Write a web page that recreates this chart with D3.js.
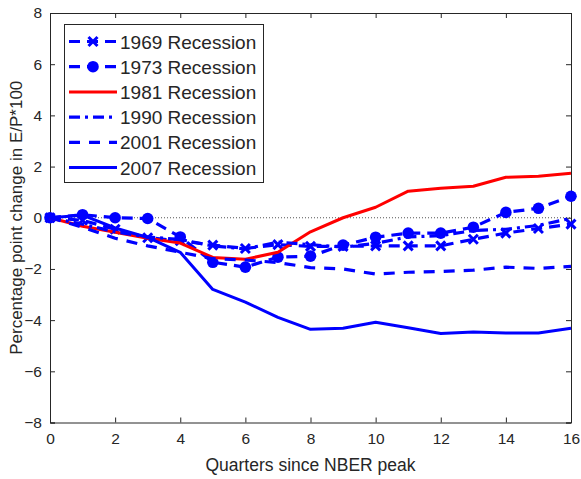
<!DOCTYPE html>
<html>
<head>
<meta charset="utf-8">
<script src="https://cdn.jsdelivr.net/npm/d3@7/dist/d3.min.js"></script>
<style>
  html, body { margin: 0; padding: 0; background: #fff; }
  svg { display: block; font-family: "Liberation Sans", Arial, Helvetica, sans-serif; }
</style>
</head>
<body>
<div id="chart"></div>
<script>
// Quarters since the NBER business-cycle peak
const quarters = d3.range(0, 17);

// Percentage point change in E/P*100, one array per recession
const rec1969 = [0, -0.1, -0.45, -0.78, -0.9, -1.07, -1.2, -1.05, -1.12, -1.12, -1.1, -1.1, -1.1, -0.84, -0.6, -0.42, -0.25];
const rec1973 = [0, 0.12, 0.0, -0.03, -0.75, -1.74, -1.93, -1.54, -1.5, -1.07, -0.76, -0.6, -0.6, -0.37, 0.21, 0.37, 0.84];
const rec1981 = [0, -0.33, -0.57, -0.8, -0.99, -1.55, -1.62, -1.35, -0.55, 0.0, 0.41, 1.04, 1.15, 1.23, 1.58, 1.62, 1.74];
const rec1990 = [0, -0.25, -0.55, -0.75, -0.85, -1.1, -1.22, -0.95, -1.05, -1.15, -1.0, -0.75, -0.7, -0.5, -0.45, -0.3, -0.02];
const rec2001 = [0, -0.37, -0.8, -1.1, -1.35, -1.6, -1.65, -1.75, -1.95, -2.0, -2.2, -2.13, -2.1, -2.05, -1.93, -1.98, -1.9];
const rec2007 = [0, 0.1, -0.4, -0.77, -1.35, -2.8, -3.3, -3.89, -4.36, -4.32, -4.08, -4.3, -4.52, -4.46, -4.5, -4.5, -4.32];

const seriesNames = ["1969 Recession", "1973 Recession", "1981 Recession", "1990 Recession", "2001 Recession", "2007 Recession"];

const xTicks = [0, 2, 4, 6, 8, 10, 12, 14, 16];
const yTicks = [-8, -6, -4, -2, 0, 2, 4, 6, 8];

const xLabel = "Quarters since NBER peak";
const yLabel = "Percentage point change in E/P*100";

// Line styling per series
const styles = [
  { color: "#0000ff", dash: "11,7", width: 3.2, marker: "x" },
  { color: "#0000ff", dash: "11,7", width: 3.2, marker: "o" },
  { color: "#ff0000", dash: null, width: 3, marker: null },
  { color: "#0000ff", dash: "11,5,3,5", width: 3.2, marker: null },
  { color: "#0000ff", dash: "11,9", width: 3.2, marker: null },
  { color: "#0000ff", dash: null, width: 3, marker: null }
];

const seriesValues = [rec1969, rec1973, rec1981, rec1990, rec2001, rec2007];
const series = seriesNames.map((name, i) => ({
  name,
  style: styles[i],
  points: quarters.map((q, j) => ({ q, v: seriesValues[i][j] }))
}));

const W = 581, H = 479;
const plot = { left: 50, right: 571, top: 13, bottom: 422.5 };
const axisColor = "#262626";

const svg = d3.select("#chart").append("svg")
  .attr("width", W).attr("height", H);

const x = d3.scaleLinear().domain([0, 16]).range([plot.left, plot.right]);
const y = d3.scaleLinear().domain([-8, 8]).range([plot.bottom, plot.top]);

// Zero reference line
svg.append("line")
  .attr("x1", x(0)).attr("x2", x(16))
  .attr("y1", y(0)).attr("y2", y(0))
  .attr("stroke", "#555").attr("stroke-width", 1)
  .attr("stroke-dasharray", "1,2");

const tickLen = 5;

// Bottom axis (ticks inside)
const gx = svg.append("g").attr("transform", `translate(0,${plot.bottom})`)
  .call(d3.axisBottom(x).tickValues(xTicks).tickSize(-tickLen).tickPadding(10).tickFormat(d3.format("d")));
// Top axis (ticks only)
const gxt = svg.append("g").attr("transform", `translate(0,${plot.top})`)
  .call(d3.axisTop(x).tickValues(xTicks).tickSize(-tickLen).tickFormat(""));
// Left axis
const gy = svg.append("g").attr("transform", `translate(${plot.left},0)`)
  .call(d3.axisLeft(y).tickValues(yTicks).tickSize(-tickLen).tickPadding(8).tickFormat(d3.format("d")));
// Right axis (ticks only)
const gyr = svg.append("g").attr("transform", `translate(${plot.right},0)`)
  .call(d3.axisRight(y).tickValues(yTicks).tickSize(-tickLen).tickFormat(""));

[gx, gxt, gy, gyr].forEach(g => {
  g.select(".domain").attr("stroke", axisColor).attr("stroke-width", 1);
  g.selectAll(".tick line").attr("stroke", axisColor);
  g.selectAll(".tick text").attr("fill", axisColor)
    .style("font-size", "15.5px").style("font-family", "Liberation Sans, Arial, sans-serif");
});

// Axis titles
svg.append("text")
  .attr("x", x(8)).attr("y", 471)
  .attr("text-anchor", "middle")
  .attr("fill", axisColor)
  .style("font-size", "17.5px")
  .text(xLabel);

svg.append("text")
  .attr("transform", `translate(22,${(plot.top + plot.bottom) / 2}) rotate(-90)`)
  .attr("text-anchor", "middle")
  .attr("fill", axisColor)
  .style("font-size", "17px")
  .text(yLabel);

// Series lines
const line = d3.line().x(d => x(d.q)).y(d => y(d.v));

const gLines = svg.append("g");
series.forEach(s => {
  const g = gLines.append("g");
  g.append("path")
    .datum(s.points)
    .attr("fill", "none")
    .attr("stroke", s.style.color)
    .attr("stroke-width", s.style.width)
    .attr("stroke-dasharray", s.style.dash)
    .attr("stroke-linejoin", "round")
    .attr("d", line);
  drawMarkers(g, s.points, s.style);
});

function drawMarkers(g, pts, st) {
  if (st.marker === "o") {
    g.selectAll("circle").data(pts).join("circle")
      .attr("cx", d => x(d.q)).attr("cy", d => y(d.v))
      .attr("r", 5.8).attr("fill", st.color);
  } else if (st.marker === "x") {
    const r = 4.5;
    g.selectAll("path.mk").data(pts).join("path")
      .attr("class", "mk")
      .attr("d", d => {
        const cx = x(d.q), cy = y(d.v);
        return `M${cx - r},${cy - r}L${cx + r},${cy + r}M${cx - r},${cy + r}L${cx + r},${cy - r}`;
      })
      .attr("stroke", st.color).attr("stroke-width", 3).attr("fill", "none");
  }
}

// Legend
const legend = svg.append("g");
const lg = { x: 64, y: 24, w: 199, h: 158 };
legend.append("rect")
  .attr("x", lg.x + 0.5).attr("y", lg.y + 0.5)
  .attr("width", lg.w).attr("height", lg.h)
  .attr("fill", "#fff").attr("stroke", axisColor).attr("stroke-width", 1);

series.forEach((s, i) => {
  const cy = 41.5 + i * 25.2;
  const x0 = 69, x1 = 117;
  const item = legend.append("g");
  item.append("line")
    .attr("x1", x0).attr("x2", x1).attr("y1", cy).attr("y2", cy)
    .attr("stroke", s.style.color)
    .attr("stroke-width", s.style.width)
    .attr("stroke-dasharray", s.style.dash);
  if (s.style.marker === "o") {
    item.append("circle").attr("cx", (x0 + x1) / 2).attr("cy", cy).attr("r", 5.8).attr("fill", s.style.color);
  } else if (s.style.marker === "x") {
    const r = 4.5, mx = (x0 + x1) / 2;
    item.append("path")
      .attr("d", `M${mx - r},${cy - r}L${mx + r},${cy + r}M${mx - r},${cy + r}L${mx + r},${cy - r}`)
      .attr("stroke", s.style.color).attr("stroke-width", 3);
  }
  item.append("text")
    .attr("x", 120).attr("y", cy + 7)
    .attr("fill", axisColor)
    .style("font-size", "19px")
    .text(s.name);
});
</script>
</body>
</html>
